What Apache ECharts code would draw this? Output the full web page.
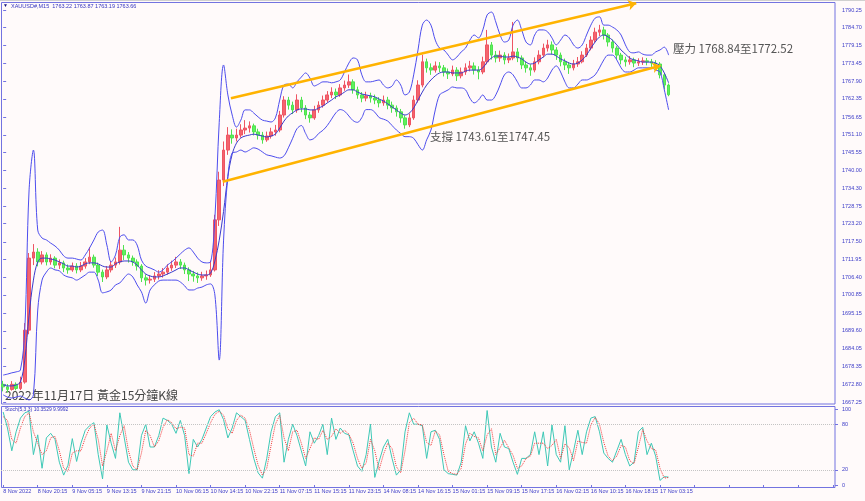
<!DOCTYPE html>
<html><head><meta charset="utf-8">
<script src="https://cdn.jsdelivr.net/npm/echarts@6/dist/echarts.min.js"></script>
<style>html,body{margin:0;padding:0;background:#fffafa}#c{width:865px;height:501px}</style>
</head><body><div id="c"></div>
<script>
// ---------- data ----------
const xTickLabels = ['8 Nov 2022','8 Nov 20:15','9 Nov 05:15','9 Nov 13:15','9 Nov 21:15','10 Nov 06:15','10 Nov 14:15','10 Nov 22:15','11 Nov 07:15','11 Nov 15:15','11 Nov 23:15','14 Nov 08:15','14 Nov 16:15','15 Nov 01:15','15 Nov 09:15','15 Nov 17:15','16 Nov 02:15','16 Nov 10:15','16 Nov 18:15','17 Nov 03:15'];
const yTickLabels = ['1667.25','1672.80','1678.35','1684.05','1689.60','1695.15','1700.85','1706.40','1711.95','1717.50','1723.20','1728.75','1734.30','1740.00','1745.55','1751.10','1756.65','1762.35','1767.90','1773.45','1779.15','1784.70','1790.25'];
const stochTickLabels = [0, 20, 80, 100];
const slotCount = 193;       // hourly slots visible on the time axis
const labelEvery = 8;        // one time label every 8 slots
// candles: [open, close, low, high]
const candles = [
[1672.8,1672.0,1670.6,1673.9],[1672.0,1671.2,1670.2,1672.9],[1671.2,1672.8,1670.8,1673.8],[1672.8,1671.5,1670.9,1673.4],[1671.5,1673.5,1671.0,1675.2],
[1673.5,1689.8,1673.0,1692.0],[1689.8,1712.4,1688.5,1714.0],[1712.4,1714.3,1710.2,1716.8],[1714.3,1711.2,1709.8,1715.5],[1711.2,1713.4,1710.4,1714.6],
[1713.4,1711.2,1710.1,1714.2],[1711.2,1712.4,1710.3,1713.6],[1712.4,1710.2,1709.2,1713.0],[1710.2,1710.9,1709.0,1712.0],[1710.9,1709.3,1708.0,1711.6],
[1709.3,1708.7,1707.5,1710.4],[1708.7,1709.9,1708.1,1711.0],[1709.9,1708.7,1707.6,1710.8],[1708.7,1709.9,1708.0,1711.2],[1709.9,1711.2,1709.1,1712.4],
[1711.2,1712.7,1710.5,1715.8],[1712.7,1710.2,1709.4,1713.5],[1710.2,1708.0,1706.8,1711.0],[1708.0,1706.5,1704.9,1708.8],[1706.5,1708.7,1705.8,1709.9],
[1708.7,1710.2,1707.9,1711.5],[1710.2,1711.2,1709.3,1712.6],[1711.2,1714.9,1710.4,1722.2],[1714.9,1713.4,1711.8,1716.5],[1713.4,1712.4,1711.0,1714.3],
[1712.4,1711.2,1710.0,1713.2],[1711.2,1709.9,1708.5,1712.0],[1709.9,1706.2,1704.9,1710.5],[1706.2,1705.5,1703.8,1707.3],[1705.5,1705.8,1704.4,1707.0],
[1705.8,1706.8,1704.9,1708.0],[1706.8,1707.4,1705.7,1708.6],[1707.4,1708.0,1706.3,1709.3],[1708.0,1709.3,1707.2,1710.5],[1709.3,1710.2,1708.4,1711.6],
[1710.2,1711.2,1709.3,1712.8],[1711.2,1710.2,1709.0,1712.1],[1710.2,1708.7,1707.4,1711.0],[1708.7,1707.4,1705.2,1709.5],[1707.4,1706.8,1705.0,1708.4],
[1706.8,1706.2,1704.6,1707.9],[1706.2,1706.8,1705.3,1708.1],[1706.8,1707.1,1705.6,1708.5],[1707.1,1708.7,1706.5,1711.6],[1708.7,1724.4,1708.2,1726.0],
[1724.4,1736.9,1722.5,1739.5],[1736.9,1746.3,1735.0,1749.0],[1746.3,1751.0,1744.8,1753.5],[1751.0,1750.1,1748.3,1752.8],[1750.1,1751.0,1749.0,1753.0],
[1751.0,1752.6,1750.2,1754.4],[1752.6,1753.2,1751.3,1755.7],[1753.2,1753.9,1751.8,1755.3],[1753.9,1752.0,1750.9,1754.6],[1752.0,1751.0,1749.6,1753.0],
[1751.0,1749.5,1748.3,1752.0],[1749.5,1750.7,1748.9,1752.1],[1750.7,1752.0,1749.9,1753.3],[1752.0,1752.6,1750.8,1754.2],[1752.6,1757.3,1751.9,1758.6],
[1757.3,1762.0,1756.5,1763.2],[1762.0,1760.4,1759.0,1763.0],[1760.4,1758.9,1757.6,1761.5],[1758.9,1762.0,1758.0,1763.8],[1762.0,1759.5,1758.2,1763.0],
[1759.5,1757.3,1756.0,1760.4],[1757.3,1756.4,1754.9,1758.3],[1756.4,1758.9,1755.8,1760.2],[1758.9,1760.4,1758.0,1761.6],[1760.4,1762.0,1759.6,1763.4],
[1762.0,1763.6,1761.2,1764.8],[1763.6,1764.5,1762.6,1766.0],[1764.5,1763.6,1762.3,1765.6],[1763.6,1765.8,1763.0,1767.0],[1765.8,1766.7,1764.9,1768.1],
[1766.7,1767.7,1765.8,1770.0],[1767.7,1765.2,1764.0,1768.5],[1765.2,1763.6,1762.4,1766.2],[1763.6,1762.6,1761.3,1764.5],[1762.6,1763.3,1761.6,1764.6],
[1763.3,1762.6,1761.2,1764.3],[1762.6,1762.0,1760.7,1763.7],[1762.0,1761.1,1759.7,1762.9],[1761.1,1762.0,1760.2,1763.4],[1762.0,1760.4,1759.1,1763.0],
[1760.4,1759.5,1758.0,1761.5],[1759.5,1758.3,1756.8,1760.3],[1758.3,1756.4,1754.9,1759.2],[1756.4,1754.2,1753.0,1757.2],[1754.2,1756.4,1753.5,1757.8],
[1756.4,1762.0,1755.8,1763.4],[1762.0,1766.7,1761.2,1768.2],[1766.7,1774.0,1766.0,1776.2],[1774.0,1772.1,1770.6,1775.0],[1772.1,1771.4,1769.9,1773.5],
[1771.4,1772.7,1770.6,1774.1],[1772.7,1772.1,1770.8,1773.9],[1772.1,1770.8,1769.4,1773.0],[1770.8,1770.2,1768.6,1771.9],[1770.2,1771.4,1769.5,1772.8],
[1771.4,1769.6,1768.0,1772.3],[1769.6,1770.8,1768.8,1772.2],[1770.8,1772.1,1769.9,1773.5],[1772.1,1772.7,1771.0,1774.3],[1772.7,1771.4,1770.0,1773.8],
[1771.4,1770.8,1768.5,1772.6],[1770.8,1774.0,1770.1,1775.6],[1774.0,1779.3,1773.2,1784.0],[1779.3,1776.1,1774.7,1780.2],[1776.1,1775.2,1773.8,1777.4],
[1775.2,1776.1,1774.0,1777.5],[1776.1,1774.6,1773.2,1777.0],[1774.6,1775.2,1773.6,1776.6],[1775.2,1777.1,1774.5,1786.5],[1777.1,1775.2,1773.9,1778.3],
[1775.2,1773.0,1771.7,1776.0],[1773.0,1772.1,1770.6,1774.0],[1772.1,1771.4,1769.6,1773.2],[1771.4,1774.0,1770.7,1775.4],[1774.0,1776.1,1773.2,1777.6],
[1776.1,1778.3,1775.4,1779.7],[1778.3,1779.3,1777.2,1780.9],[1779.3,1777.7,1776.3,1780.4],[1777.7,1776.1,1774.6,1778.6],[1776.1,1774.0,1772.6,1776.9],
[1774.0,1773.0,1771.4,1775.0],[1773.0,1772.1,1770.2,1773.9],[1772.1,1773.3,1771.3,1774.6],[1773.3,1774.0,1772.4,1775.5],[1774.0,1776.1,1773.5,1777.3],
[1776.1,1778.3,1775.5,1779.6],[1778.3,1780.8,1777.6,1782.0],[1780.8,1783.3,1780.0,1784.7],[1783.3,1784.0,1782.1,1785.6],[1784.0,1782.4,1781.0,1785.0],
[1782.4,1780.2,1778.8,1783.0],[1780.2,1778.3,1776.9,1781.0],[1778.3,1776.1,1774.7,1778.9],[1776.1,1774.6,1773.2,1776.8],[1774.6,1774.0,1772.5,1775.6],
[1774.0,1774.6,1773.1,1775.8],[1774.6,1773.6,1772.3,1775.3],[1773.6,1774.0,1772.7,1775.1],[1774.0,1774.3,1773.0,1775.4],[1774.3,1774.0,1772.9,1775.2],
[1774.0,1773.6,1772.4,1774.9],[1773.6,1773.3,1772.0,1774.5],[1773.3,1769.9,1768.8,1773.9],[1769.9,1766.7,1765.3,1770.5],[1766.7,1763.66,1763.19,1767.2]
];
const bbUpper = [1675.7,1676.0,1676.4,1676.7,1677.3,1689.8,1733.8,1746.3,1721.2,1718.7,
1718.1,1717.1,1716.2,1714.9,1713.1,1712.4,1712.4,1712.1,1711.8,1713.4,
1715.6,1718.1,1720.6,1721.2,1716.5,1711.2,1713.4,1719.0,1719.7,1718.1,
1718.1,1716.5,1711.8,1709.9,1709.3,1708.7,1708.0,1708.7,1710.2,1711.2,
1712.4,1713.7,1714.9,1715.6,1714.3,1712.4,1711.2,1710.9,1711.2,1725.0,
1755.0,1773.0,1763.6,1757.3,1753.5,1755.7,1758.9,1758.9,1757.9,1756.7,
1755.7,1755.4,1755.1,1756.4,1762.0,1766.7,1767.0,1765.8,1767.7,1769.2,
1770.5,1768.9,1766.4,1767.0,1767.7,1767.7,1767.4,1767.7,1768.3,1770.8,
1773.6,1775.2,1774.6,1769.9,1767.7,1767.7,1768.0,1768.3,1766.7,1765.8,
1766.4,1768.3,1766.7,1763.6,1764.5,1769.9,1777.7,1785.5,1787.1,1785.5,
1780.8,1778.3,1777.7,1776.1,1774.6,1775.5,1777.1,1778.3,1780.8,1782.4,
1781.5,1784.0,1788.7,1789.6,1786.5,1782.4,1780.2,1780.8,1785.5,1787.1,
1784.0,1780.2,1779.3,1782.4,1784.0,1784.0,1783.4,1781.5,1779.3,1780.8,
1782.4,1781.5,1779.3,1778.3,1779.3,1782.4,1785.5,1787.7,1788.1,1785.5,
1785.5,1784.9,1784.0,1782.4,1779.3,1777.1,1776.8,1777.1,1776.4,1776.1,
1776.1,1777.1,1777.7,1778.6,1776.1];
const bbMiddle = [1672.6,1672.3,1672.3,1672.6,1673.5,1680.4,1694.5,1705.5,1711.2,1712.4,
1712.4,1712.1,1711.8,1711.2,1710.6,1709.9,1709.9,1709.6,1709.9,1710.6,
1710.9,1710.9,1710.6,1709.9,1709.6,1709.6,1710.6,1711.2,1711.5,1711.5,
1711.2,1710.2,1708.7,1707.4,1706.8,1706.5,1706.5,1706.8,1707.4,1708.0,
1708.7,1709.3,1709.3,1708.7,1708.0,1707.4,1707.1,1707.1,1707.7,1711.5,
1718.0,1727.0,1738.0,1745.0,1748.5,1750.1,1750.7,1751.0,1751.3,1751.0,
1750.7,1750.4,1750.7,1751.3,1753.2,1755.4,1757.0,1758.0,1758.9,1759.2,
1759.2,1758.9,1758.9,1759.5,1760.1,1761.1,1762.0,1763.0,1763.6,1764.5,
1765.2,1765.2,1764.5,1763.9,1763.6,1763.3,1763.0,1762.3,1761.7,1760.8,
1759.8,1758.9,1757.9,1757.3,1757.9,1759.5,1762.0,1764.5,1766.7,1768.3,
1769.6,1770.5,1770.8,1770.8,1770.5,1770.5,1770.5,1771.1,1771.4,1771.4,
1771.4,1772.1,1773.9,1775.2,1775.8,1775.8,1775.5,1775.5,1775.8,1775.5,
1774.9,1773.9,1773.3,1773.6,1774.6,1775.5,1776.4,1776.4,1775.8,1774.9,
1774.3,1773.6,1773.3,1773.6,1774.6,1776.1,1778.3,1780.2,1781.8,1782.4,
1781.8,1780.8,1779.3,1777.7,1776.4,1775.2,1774.6,1774.3,1773.9,1773.9,
1773.9,1773.6,1772.7,1770.5,1767.4];
const bbLower = [1669.5,1668.8,1668.5,1668.8,1669.1,1668.5,1667.9,1669.5,1696.1,1705.5,
1708.0,1709.3,1708.7,1708.4,1707.1,1706.5,1706.2,1705.5,1706.2,1707.1,
1708.0,1708.0,1705.5,1701.5,1701.8,1702.4,1704.0,1704.6,1706.2,1707.4,
1706.5,1704.0,1701.8,1698.3,1702.4,1704.0,1705.2,1705.5,1705.5,1705.5,
1705.5,1704.9,1703.7,1702.4,1702.4,1703.0,1703.3,1704.0,1704.3,1700.8,
1680.4,1717.8,1738.0,1745.4,1745.7,1746.3,1745.7,1746.3,1747.0,1746.6,
1745.7,1744.8,1744.5,1744.1,1743.8,1744.5,1747.0,1750.0,1753.0,1754.0,
1751.5,1749.5,1750.0,1751.5,1752.5,1754.0,1756.0,1758.0,1759.0,1758.5,
1757.0,1755.5,1755.0,1756.5,1759.0,1759.0,1758.2,1756.5,1756.0,1755.4,
1754.0,1752.6,1751.5,1750.5,1750.5,1750.0,1748.0,1746.3,1749.5,1752.6,
1758.9,1763.6,1764.5,1765.2,1766.1,1765.8,1765.8,1765.2,1762.6,1761.1,
1762.0,1763.6,1762.0,1762.0,1763.6,1766.7,1769.9,1770.8,1769.9,1767.7,
1765.8,1765.8,1766.7,1768.3,1768.3,1767.7,1768.9,1771.4,1772.7,1770.8,
1767.7,1765.8,1765.8,1767.0,1768.3,1768.3,1768.9,1769.9,1772.1,1774.6,
1776.1,1776.1,1774.6,1772.1,1770.8,1770.8,1771.4,1772.1,1772.1,1772.1,
1772.1,1771.4,1770.8,1765.2,1758.9];
const stochK = [96,75,45,70,88,95,97,40,66,22,62,68,60,30,13,26,61,31,55,72,
78,82,40,8,79,55,35,95,63,30,20,20,65,80,50,50,65,88,85,80,
68,85,65,15,60,50,60,75,90,96,99,86,62,75,95,90,85,60,35,16,
9,35,70,90,95,30,60,80,65,45,25,70,55,65,80,40,88,60,75,68,
66,45,25,18,40,80,10,31,50,60,35,13,20,70,95,80,80,78,35,70,
72,60,20,15,14,13,30,78,58,70,55,35,98,50,30,68,50,48,30,14,
35,35,40,70,40,70,25,79,40,30,78,20,45,72,40,70,88,90,70,42,
35,30,45,60,40,25,30,70,76,40,55,38,6,11,10.35];
const stochD = [90,85,60,55,75,90,95,70,55,40,45,62,64,45,22,18,42,45,45,62,
75,80,60,25,45,68,45,65,78,45,25,20,42,72,65,50,58,76,86,82,
74,76,75,40,38,55,55,68,82,93,97,92,74,68,85,92,88,72,48,26,
13,22,52,80,92,62,45,70,72,55,35,48,62,60,72,60,64,74,68,72,
67,55,35,22,29,60,45,20,40,55,48,24,16,45,82,88,80,79,56,52,
71,66,40,18,15,14,22,54,68,64,62,45,66,74,40,49,59,49,39,22,
25,35,38,55,55,55,48,52,60,35,54,49,32,58,56,55,79,89,80,56,
38,32,38,52,50,32,28,50,73,58,48,46,22,9,9.9992];
// trend channel end points: [bar slot, price]
const channelUpper = [[52.7, 1762.55], [146.5, 1792.35]];
const channelLower = [[50.8, 1736.37], [152.1, 1772.78]];
const lastPrice = 1763.66;
const titleText = 'XAUUSD#,M15  1763.22 1763.87 1763.19 1763.66';
const stochText = 'Stoch(5,3,3) 10.3529 9.9992';
const resistText = '壓力 1768.84至1772.52';
const supportText = '支撐 1743.61至1747.45';
const captionText = '2022年11月17日 黃金15分鐘K線';

// ---------- build ----------
const cats = [];
for (let i = 0; i < slotCount; i++) {
  cats.push(i % labelEvery === 0 && (i / labelEvery) < xTickLabels.length ? xTickLabels[i / labelEvery] : '');
}
const frame = '#7373e0';
const axisTxt = '#3c3cc8';
const small = 'Liberation Sans';
const cjk = '"Noto Sans CJK TC","Noto Sans CJK SC",sans-serif';
const chart = echarts.init(document.getElementById('c'), null, {renderer: 'canvas'});
const bandStyle = (c) => ({type: 'line', xAxisIndex: 0, yAxisIndex: 0, showSymbol: false, smooth: 0.35,
  lineStyle: {color: c, width: 1}, silent: true, z: 3});

chart.setOption({
  backgroundColor: '#fffafa',
  animation: false,
  grid: [
    {left: 1, right: 30, top: 10, bottom: 99},
    {left: 1, right: 30, top: 409, bottom: 16}
  ],
  xAxis: [
    {type: 'category', gridIndex: 0, data: cats, boundaryGap: true, show: false},
    {type: 'value', gridIndex: 0, min: -0.5, max: slotCount - 0.5, show: false},
    {type: 'category', gridIndex: 1, data: cats, boundaryGap: true,
      axisLine: {show: false},
      axisTick: {show: true, interval: labelEvery - 1, alignWithLabel: true, length: 3, lineStyle: {color: frame}},
      axisLabel: {interval: labelEvery - 1, align: 'left', fontSize: 5.5, fontFamily: small, color: axisTxt, margin: 3}}
  ],
  yAxis: [
    {type: 'value', gridIndex: 0, position: 'right', min: 1667.25, max: 1790.25, scale: true,
      splitLine: {show: false}, axisLine: {show: false},
      axisTick: {show: true, length: 3, customValues: yTickLabels.map(Number), lineStyle: {color: frame}},
      axisLabel: {customValues: yTickLabels.map(Number), formatter: v => v.toFixed(2), fontSize: 5.5, fontFamily: small, color: axisTxt, margin: 7, showMinLabel: true, showMaxLabel: true}},
    {type: 'value', gridIndex: 1, position: 'right', min: 0, max: 100,
      splitLine: {show: false}, axisLine: {show: false},
      axisTick: {show: true, length: 3, customValues: stochTickLabels, lineStyle: {color: frame}},
      axisLabel: {customValues: stochTickLabels, fontSize: 5.5, fontFamily: small, color: axisTxt, margin: 7}}
  ],
  series: [
    {type: 'candlestick', xAxisIndex: 0, yAxisIndex: 0, data: candles, barWidth: '72%', z: 2,
      itemStyle: {color: '#f4646e', color0: '#5ef05e', borderColor: '#ee5563', borderColor0: '#4fe24f', borderWidth: 1},
      markLine: {silent: true, symbol: 'none', data: [{yAxis: lastPrice}],
        lineStyle: {opacity: 0},
        label: {show: true, position: 'end', formatter: lastPrice.toFixed(2), distance: 3,
          backgroundColor: '#1212c8', color: '#ffffff', fontSize: 5.5, fontFamily: small, padding: [1, 3, 1, 2]}}},
    Object.assign(bandStyle('#4d4dee'), {data: bbUpper}),
    Object.assign(bandStyle('#3a3acc'), {data: bbMiddle}),
    Object.assign(bandStyle('#4d4dee'), {data: bbLower}),
    {type: 'lines', coordinateSystem: 'cartesian2d', xAxisIndex: 1, yAxisIndex: 0, clip: false, z: 5,
      symbol: ['none', 'arrow'], symbolSize: 8,
      lineStyle: {color: '#ffb300', width: 2.5, opacity: 1},
      data: [{coords: channelUpper}, {coords: channelLower}]},
    {type: 'line', xAxisIndex: 2, yAxisIndex: 1, data: stochK, showSymbol: false,
      lineStyle: {color: '#3ec8b6', width: 1}, z: 3,
      markLine: {silent: true, symbol: 'none', label: {show: false},
        lineStyle: {color: '#c4c4c4', type: 'dotted', width: 1},
        data: [{yAxis: 20}, {yAxis: 80}]}},
    {type: 'line', xAxisIndex: 2, yAxisIndex: 1, data: stochD, showSymbol: false,
      lineStyle: {color: '#f23c3c', width: 1, type: 'dotted'}, z: 4}
  ],
  graphic: [
    {type: 'rect', shape: {x: 0, y: 0, width: 865, height: 1}, style: {fill: '#d0d0d0'}, silent: true},
    {type: 'rect', shape: {x: 1.5, y: 2.5, width: 833.5, height: 401.5}, style: {fill: 'none', stroke: frame, lineWidth: 1}, silent: true},
    {type: 'rect', shape: {x: 1.5, y: 406.5, width: 833.5, height: 81}, style: {fill: 'none', stroke: frame, lineWidth: 1}, silent: true},
    {type: 'text', x: 3, y: 3, style: {text: '▼', fontSize: 5, fill: '#101080'}, silent: true},
    {type: 'text', x: 11, y: 3.5, style: {text: titleText, fontSize: 5.5, fontFamily: small, fill: '#3535c0'}, silent: true},
    {type: 'text', x: 5, y: 407.5, style: {text: stochText, fontSize: 5, fontFamily: small, fill: '#3535c0'}, silent: true},
    {type: 'text', x: 673, y: 43, style: {text: resistText, fontSize: 11.5, fontFamily: cjk, fill: '#555555'}, silent: true},
    {type: 'text', x: 430, y: 131, style: {text: supportText, fontSize: 11.5, fontFamily: cjk, fill: '#555555'}, silent: true},
    {type: 'text', x: 5, y: 389, style: {text: captionText, fontSize: 12, fontFamily: cjk, fill: '#444444'}, silent: true}
  ]
});
</script></body></html>
